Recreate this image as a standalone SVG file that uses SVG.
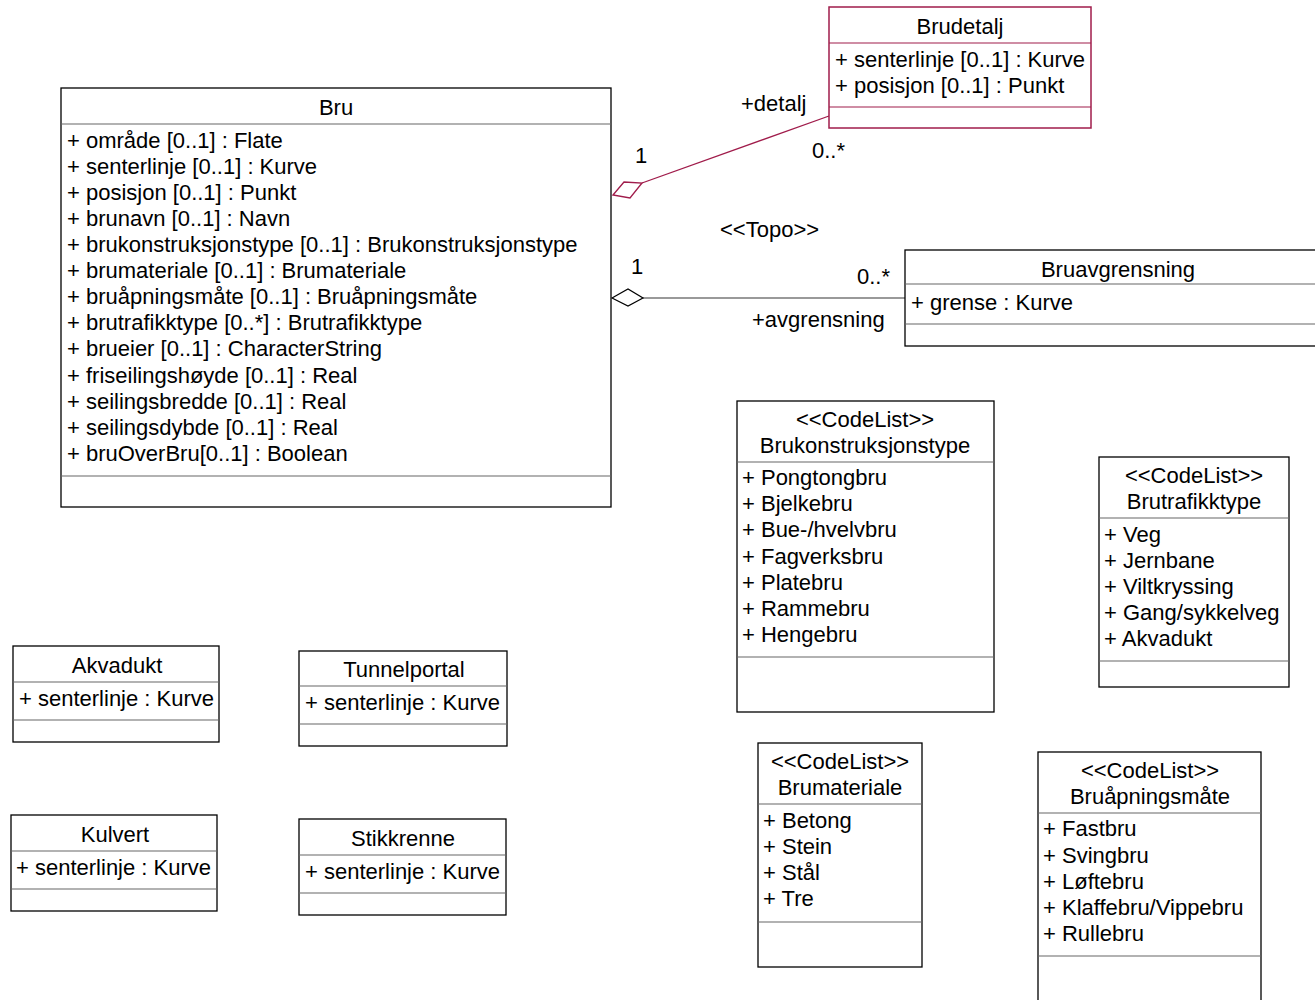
<svg xmlns="http://www.w3.org/2000/svg" width="1315" height="1000" viewBox="0 0 1315 1000">
<style>
text{font-family:"Liberation Sans",Arial,sans-serif;font-size:22px;fill:#000}
.c{text-anchor:middle}
.box{fill:#fff;stroke:#000;stroke-width:1.3}
.div{stroke:#666;stroke-width:1.2}
.red .box{stroke:#a01c4b;stroke-width:1.5}
.red .div{stroke:#a01c4b;stroke-width:1.2}
</style>
<rect width="1315" height="1000" fill="#fff"/>

<g id="connectors">
  <g id="detalj">
    <line x1="642" y1="183" x2="829" y2="116" stroke="#a01c4b" stroke-width="1.3"/>
    <polygon points="613,195 624,182 642,183 630,198" fill="#fff" stroke="#a01c4b" stroke-width="1.3"/>
    <text x="641" y="163" class="c">1</text>
    <text x="741" y="111">+detalj</text>
    <text x="812" y="158">0..*</text>
  </g>
  <g id="avgrensning">
    <line x1="643" y1="298" x2="905" y2="298" stroke="#777" stroke-width="1.5"/>
    <polygon points="612,298 628,289 643,298 628,306" fill="#fff" stroke="#000" stroke-width="1.2"/>
    <text x="637" y="274" class="c">1</text>
    <text x="720" y="237">&lt;&lt;Topo&gt;&gt;</text>
    <text x="857" y="284">0..*</text>
    <text x="752" y="327">+avgrensning</text>
  </g>
</g>

<g id="Bru">
  <rect class="box" x="61" y="88" width="550" height="419"/>
  <line class="div" x1="61" y1="124" x2="611" y2="124"/>
  <line class="div" x1="61" y1="476" x2="611" y2="476"/>
  <text x="336" y="115" class="c">Bru</text>
  <text x="67" y="148">+ område [0..1] : Flate</text>
  <text x="67" y="174">+ senterlinje [0..1] : Kurve</text>
  <text x="67" y="200">+ posisjon [0..1] : Punkt</text>
  <text x="67" y="226">+ brunavn [0..1] : Navn</text>
  <text x="67" y="252">+ brukonstruksjonstype [0..1] : Brukonstruksjonstype</text>
  <text x="67" y="278">+ brumateriale [0..1] : Brumateriale</text>
  <text x="67" y="304">+ bruåpningsmåte [0..1] : Bruåpningsmåte</text>
  <text x="67" y="330">+ brutrafikktype [0..*] : Brutrafikktype</text>
  <text x="67" y="356">+ brueier [0..1] : CharacterString</text>
  <text x="67" y="383">+ friseilingshøyde [0..1] : Real</text>
  <text x="67" y="409">+ seilingsbredde [0..1] : Real</text>
  <text x="67" y="435">+ seilingsdybde [0..1] : Real</text>
  <text x="67" y="461">+ bruOverBru[0..1] : Boolean</text>
</g>

<g id="Brudetalj" class="red">
  <rect class="box" x="829" y="7" width="262" height="121"/>
  <line class="div" x1="829" y1="43" x2="1091" y2="43"/>
  <line class="div" x1="829" y1="107" x2="1091" y2="107"/>
  <text x="960" y="34" class="c">Brudetalj</text>
  <text x="835" y="67">+ senterlinje [0..1] : Kurve</text>
  <text x="835" y="93">+ posisjon [0..1] : Punkt</text>
</g>

<g id="Bruavgrensning">
  <rect class="box" x="905" y="250" width="430" height="96"/>
  <line class="div" x1="905" y1="284" x2="1335" y2="284"/>
  <line class="div" x1="905" y1="324" x2="1335" y2="324"/>
  <text x="1118" y="277" class="c">Bruavgrensning</text>
  <text x="911" y="310">+ grense : Kurve</text>
</g>

<g id="Brukonstruksjonstype">
  <rect class="box" x="737" y="401" width="257" height="311"/>
  <line class="div" x1="737" y1="462" x2="994" y2="462"/>
  <line class="div" x1="737" y1="657" x2="994" y2="657"/>
  <text x="865" y="427" class="c">&lt;&lt;CodeList&gt;&gt;</text>
  <text x="865" y="453" class="c">Brukonstruksjonstype</text>
  <text x="742" y="485">+ Pongtongbru</text>
  <text x="742" y="511">+ Bjelkebru</text>
  <text x="742" y="537">+ Bue-/hvelvbru</text>
  <text x="742" y="564">+ Fagverksbru</text>
  <text x="742" y="590">+ Platebru</text>
  <text x="742" y="616">+ Rammebru</text>
  <text x="742" y="642">+ Hengebru</text>
</g>

<g id="Brutrafikktype">
  <rect class="box" x="1099" y="457" width="190" height="230"/>
  <line class="div" x1="1099" y1="518" x2="1289" y2="518"/>
  <line class="div" x1="1099" y1="661" x2="1289" y2="661"/>
  <text x="1194" y="483" class="c">&lt;&lt;CodeList&gt;&gt;</text>
  <text x="1194" y="509" class="c">Brutrafikktype</text>
  <text x="1104" y="542">+ Veg</text>
  <text x="1104" y="568">+ Jernbane</text>
  <text x="1104" y="594">+ Viltkryssing</text>
  <text x="1104" y="620">+ Gang/sykkelveg</text>
  <text x="1104" y="646">+ Akvadukt</text>
</g>

<g id="Brumateriale">
  <rect class="box" x="758" y="743" width="164" height="224"/>
  <line class="div" x1="758" y1="804" x2="922" y2="804"/>
  <line class="div" x1="758" y1="922" x2="922" y2="922"/>
  <text x="840" y="769" class="c">&lt;&lt;CodeList&gt;&gt;</text>
  <text x="840" y="795" class="c">Brumateriale</text>
  <text x="763" y="828">+ Betong</text>
  <text x="763" y="854">+ Stein</text>
  <text x="763" y="880">+ Stål</text>
  <text x="763" y="906">+ Tre</text>
</g>

<g id="Bruapningsmate">
  <rect class="box" x="1038" y="752" width="223" height="260"/>
  <line class="div" x1="1038" y1="813" x2="1261" y2="813"/>
  <line class="div" x1="1038" y1="956" x2="1261" y2="956"/>
  <text x="1150" y="778" class="c">&lt;&lt;CodeList&gt;&gt;</text>
  <text x="1150" y="804" class="c">Bruåpningsmåte</text>
  <text x="1043" y="836">+ Fastbru</text>
  <text x="1043" y="863">+ Svingbru</text>
  <text x="1043" y="889">+ Løftebru</text>
  <text x="1043" y="915">+ Klaffebru/Vippebru</text>
  <text x="1043" y="941">+ Rullebru</text>
</g>

<g id="Akvadukt">
  <rect class="box" x="13" y="646" width="206" height="96"/>
  <line class="div" x1="13" y1="682" x2="219" y2="682"/>
  <line class="div" x1="13" y1="720" x2="219" y2="720"/>
  <text x="117" y="673" class="c">Akvadukt</text>
  <text x="19" y="706">+ senterlinje : Kurve</text>
</g>

<g id="Tunnelportal">
  <rect class="box" x="299" y="651" width="208" height="95"/>
  <line class="div" x1="299" y1="686" x2="507" y2="686"/>
  <line class="div" x1="299" y1="724" x2="507" y2="724"/>
  <text x="404" y="677" class="c">Tunnelportal</text>
  <text x="305" y="710">+ senterlinje : Kurve</text>
</g>

<g id="Kulvert">
  <rect class="box" x="11" y="815" width="206" height="96"/>
  <line class="div" x1="11" y1="851" x2="217" y2="851"/>
  <line class="div" x1="11" y1="889" x2="217" y2="889"/>
  <text x="115" y="842" class="c">Kulvert</text>
  <text x="16" y="875">+ senterlinje : Kurve</text>
</g>

<g id="Stikkrenne">
  <rect class="box" x="299" y="819" width="207" height="96"/>
  <line class="div" x1="299" y1="855" x2="506" y2="855"/>
  <line class="div" x1="299" y1="893" x2="506" y2="893"/>
  <text x="403" y="846" class="c">Stikkrenne</text>
  <text x="305" y="879">+ senterlinje : Kurve</text>
</g>
</svg>
